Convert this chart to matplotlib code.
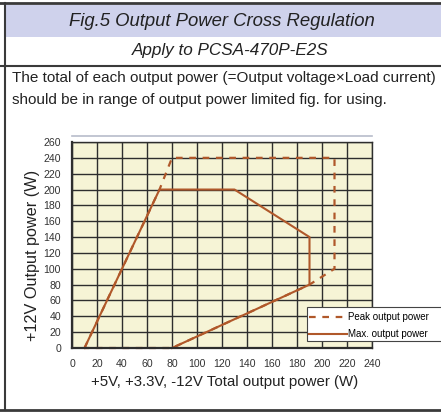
import matplotlib.pyplot as plt
from matplotlib.patches import Rectangle
from matplotlib.lines import Line2D

plt.rcParams['font.family'] = ['Liberation Sans', 'DejaVu Sans']

# data
peak_x = [10, 70, 80, 210, 210, 190, 80, 10]
peak_y = [0, 200, 240, 240, 100, 80, 0, 0]
max_x = [10, 70, 130, 190, 190, 80]
max_y = [0, 200, 200, 140, 80, 0]
x_ticks = list(range(0, 241, 20))
y_ticks = list(range(0, 261, 20))

title = 'Fig.5 Output Power Cross Regulation'
subtitle = 'Apply to PCSA-470P-E2S'
note = ['The total of each output power (=Output voltage\u00d7Load current)',
        'should be in range of output power limited fig. for using.']

W, H = 441, 412
fig = plt.figure(figsize=(W / 100, H / 100), dpi=100)

def fx(px):
    return px / W

def fy(py):
    return 1 - py / H

# header band and frame
fig.patches.append(Rectangle((fx(5), fy(37)), fx(436), 32 / H, transform=fig.transFigure,
                             facecolor='#cfd2ec', edgecolor='none', zorder=0))
for x0, y0, x1, y1, lw in [(0, 3, 441, 3, 2), (5, 3, 5, 410, 1.5), (0, 66, 441, 66, 1.5),
                           (0, 410, 441, 410, 2)]:
    fig.add_artist(Line2D([fx(x0), fx(x1)], [fy(y0), fy(y1)], transform=fig.transFigure,
                          color='#3a3a3a', lw=lw))

fig.text(fx(222), fy(21), title, ha='center', va='center', fontsize=13.3, style='italic', color='#222222')
fig.text(fx(230), fy(51), subtitle, ha='center', va='center', fontsize=12.3, style='italic', color='#222222')
fig.text(fx(12), fy(78), note[0], ha='left', va='center', fontsize=11, color='#222222')
fig.text(fx(12), fy(100), note[1], ha='left', va='center', fontsize=11, color='#222222')

ax = fig.add_axes([fx(72), fy(348), 300 / W, 206 / H])
ax.set_facecolor('#f6f4d6')
ax.set_xlim(0, 240)
ax.set_ylim(0, 260)
ax.set_xticks(x_ticks)
ax.set_yticks(y_ticks)
ax.grid(True, color='#2e2e2e', lw=1)
ax.set_axisbelow(True)
ax.tick_params(length=0, labelsize=7.6, colors='#333333', pad=8)
for s in ax.spines.values():
    s.set_color('#2e2e2e')
    s.set_linewidth(1)
ax.spines['left'].set_linewidth(1.6)
ax.spines['bottom'].set_linewidth(1.6)

h1, = ax.plot(peak_x, peak_y, color='#b0582a', lw=1.6, ls=(0, (3, 3)), clip_on=False)
h2, = ax.plot(max_x, max_y, color='#b0582a', lw=1.5, clip_on=False)

ax.set_xlabel('+5V, +3.3V, -12V Total output power (W)', fontsize=10.8, color='#222222')
ax.xaxis.set_label_coords((225 - 72) / 300, -(375 - 348) / 206)
ax.set_ylabel('+12V Output power (W)', fontsize=11.7, color='#222222')
ax.yaxis.set_label_coords((40 - 72) / 300, (348 - 255) / 206)

fig.add_artist(Line2D([fx(72), fx(372)], [fy(136), fy(136)], transform=fig.transFigure,
                      color='#b8bccb', lw=1.2))

# legend box runs past the right edge of the picture
fig.patches.append(Rectangle((fx(307), fy(341)), fx(140), 34 / H, transform=fig.transFigure,
                             facecolor='white', edgecolor='#444444', lw=0.8, zorder=3))
leg = fig.legend([h1, h2], ['Peak output power', 'Max. output power'],
                 loc='upper left', bbox_to_anchor=(fx(307), fy(310)),
                 fontsize=7, handlelength=3.9, handletextpad=0.1, borderpad=0.2,
                 labelspacing=0.75, frameon=False, borderaxespad=0)
leg.set_zorder(4)

fig.savefig('out.png', dpi=100)
